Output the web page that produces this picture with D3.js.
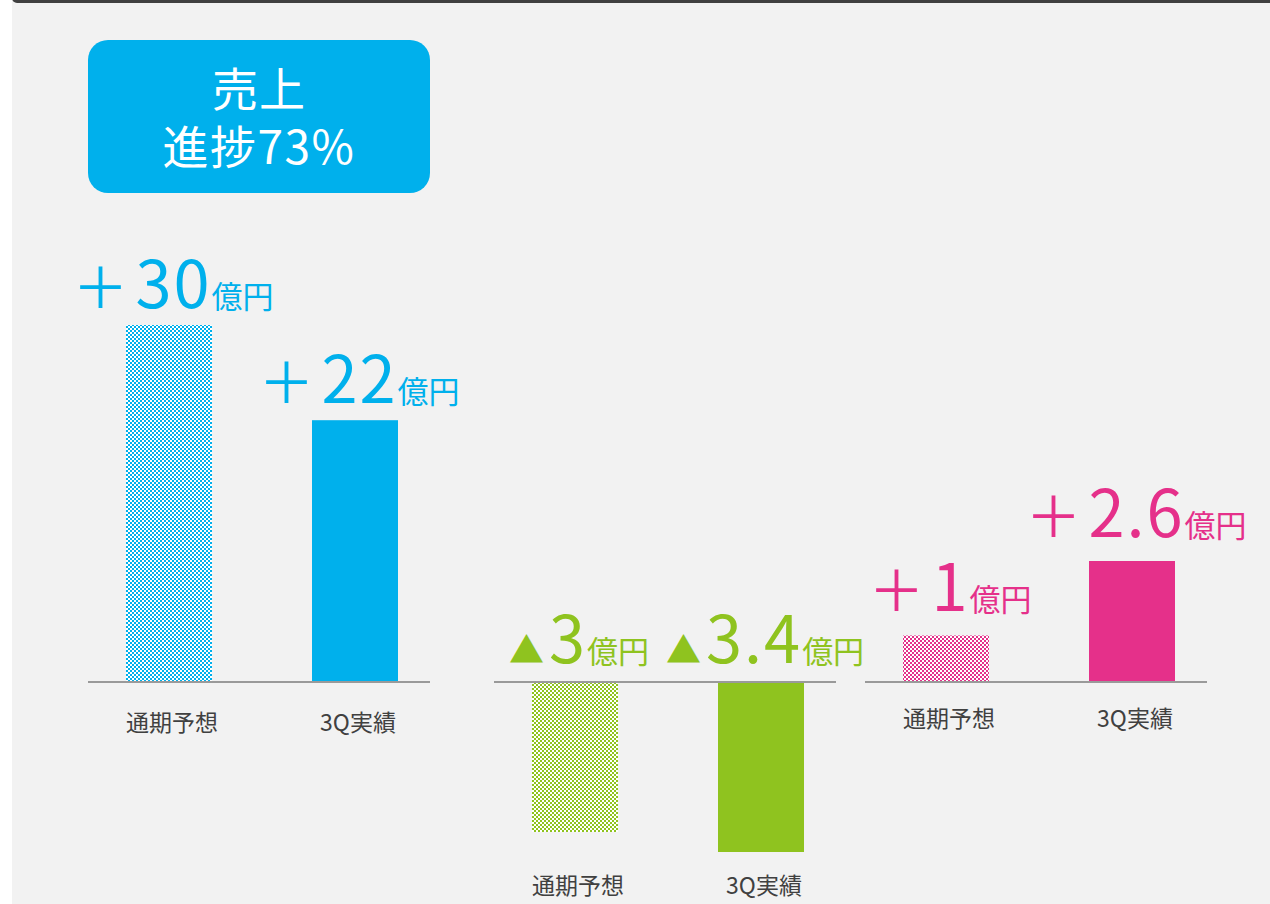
<!DOCTYPE html>
<html><head><meta charset="utf-8">
<script src="https://cdn.jsdelivr.net/npm/d3@7/dist/d3.min.js"></script>
<style>
html,body{margin:0;padding:0;background:#fff;}
svg{display:block;font-family:"Noto Sans CJK JP","Noto Sans",sans-serif;}
</style></head>
<body>
<svg id="chart" width="1270" height="904"></svg>
<script>
// ---- data ----
const categories = ["通期予想", "3Q実績"];
const salesValues = [30, 22];        // 売上 (億円)
const panel2Values = [-3, -3.4];     // 億円 (▲ = マイナス)
const panel3Values = [1, 2.6];       // 億円
const salesLabels = ["30", "22"];
const panel2Labels = ["3", "3.4"];
const panel3Labels = ["1", "2.6"];
const unitLabel = "億円";
const badgeLines = ["売上", "進捗73%"];

const svg = d3.select("#chart");
const W = 1270, H = 904;

// background
svg.append("rect").attr("width", W).attr("height", H).attr("fill", "#ffffff");
svg.append("rect").attr("x", 12).attr("y", 0).attr("width", W - 12).attr("height", H).attr("fill", "#f2f2f2");
svg.append("rect").attr("x", 12).attr("y", -10).attr("width", W).attr("height", 13).attr("rx", 5).attr("fill", "#404040");

// patterns
const defs = svg.append("defs");
function checker(id, color) {
  const p = defs.append("pattern").attr("id", id).attr("patternUnits", "userSpaceOnUse")
    .attr("width", 4).attr("height", 4);
  p.append("rect").attr("width", 4).attr("height", 4).attr("fill", "#ffffff");
  p.append("rect").attr("x", 0).attr("y", 0).attr("width", 2).attr("height", 2).attr("fill", color);
  p.append("rect").attr("x", 2).attr("y", 2).attr("width", 2).attr("height", 2).attr("fill", color);
}
const BLUE = "#00b0ec", GREEN = "#8fc31f", PINK = "#e5308a";
checker("chkBlue", BLUE);
checker("chkGreen", GREEN);
checker("chkPink", PINK);

// badge
const badge = svg.append("g");
badge.append("rect").attr("x", 88).attr("y", 40).attr("width", 342).attr("height", 153)
  .attr("rx", 20).attr("fill", "#00b0ec");
const bt = badge.append("text").attr("text-anchor", "middle").attr("fill", "#ffffff")
  .attr("font-size", 46).attr("y", 106);
bt.selectAll("tspan").data(badgeLines).join("tspan")
  .attr("x", 259).attr("dy", (d, i) => i ? 58 : 0)
  .attr("letter-spacing", (d, i) => i ? 1.5 : 1)
  .text(d => d);

const baseY = 682;

function panel(opts) {
  const g = svg.append("g");
  const x = d3.scaleBand().domain(categories)
    .range([opts.left + 38, opts.left + 310]).paddingInner(100 / 186).paddingOuter(0);
  const y = d3.scaleLinear().domain(opts.domain).range([baseY, baseY - opts.pxRange]);

  g.selectAll("rect.bar").data(opts.values).join("rect").attr("class", "bar")
    .attr("x", (d, i) => x(categories[i]))
    .attr("width", x.bandwidth())
    .attr("y", d => Math.min(y(d), y(0)))
    .attr("height", d => Math.abs(y(d) - y(0)))
    .attr("fill", (d, i) => i === 0 ? `url(#${opts.pattern})` : opts.color);

  // axis line
  g.append("line").attr("x1", opts.left).attr("x2", opts.left + 342)
    .attr("y1", baseY).attr("y2", baseY)
    .attr("stroke", "#9a9a9a").attr("stroke-width", 2);

  // category labels
  g.selectAll("text.cat").data(categories).join("text").attr("class", "cat")
    .attr("x", d => x(d) + x.bandwidth() / 2 + 3)
    .attr("y", opts.catY)
    .attr("text-anchor", "middle").attr("fill", "#404040")
    .attr("font-size", 23).text(d => d);

  // value labels
  const vl = g.selectAll("text.val").data(opts.values).join("text").attr("class", "val")
    .attr("x", (d, i) => x(categories[i]) + x.bandwidth() / 2 + 4)
    .attr("y", d => opts.labelY ? opts.labelY : y(d) - opts.labelGap)
    .attr("text-anchor", "middle").attr("fill", opts.color);
  vl.append("tspan").attr("font-size", opts.prefixSize).text(opts.prefix);
  vl.append("tspan").attr("font-size", 65).attr("dx", opts.prefixGap).attr("letter-spacing", 2)
    .text((d, i) => opts.labels[i]);
  vl.append("tspan").attr("font-size", 31).text(unitLabel);
}

panel({ left: 88, values: salesValues, labels: salesLabels, domain: [0, 30], pxRange: 357,
  color: BLUE, pattern: "chkBlue", prefix: "＋", prefixSize: 56, prefixGap: 7,
  labelGap: 17, catY: 731 });
panel({ left: 494, values: panel2Values, labels: panel2Labels, domain: [0, -3.4], pxRange: -170,
  color: GREEN, pattern: "chkGreen", prefix: "▲", prefixSize: 35, prefixGap: 5,
  labelY: 663, catY: 894 });
panel({ left: 865, values: panel3Values, labels: panel3Labels, domain: [0, 2.6], pxRange: 121,
  color: PINK, pattern: "chkPink", prefix: "＋", prefixSize: 56, prefixGap: 7,
  labelGap: 24, catY: 727 });
</script>
</body></html>
